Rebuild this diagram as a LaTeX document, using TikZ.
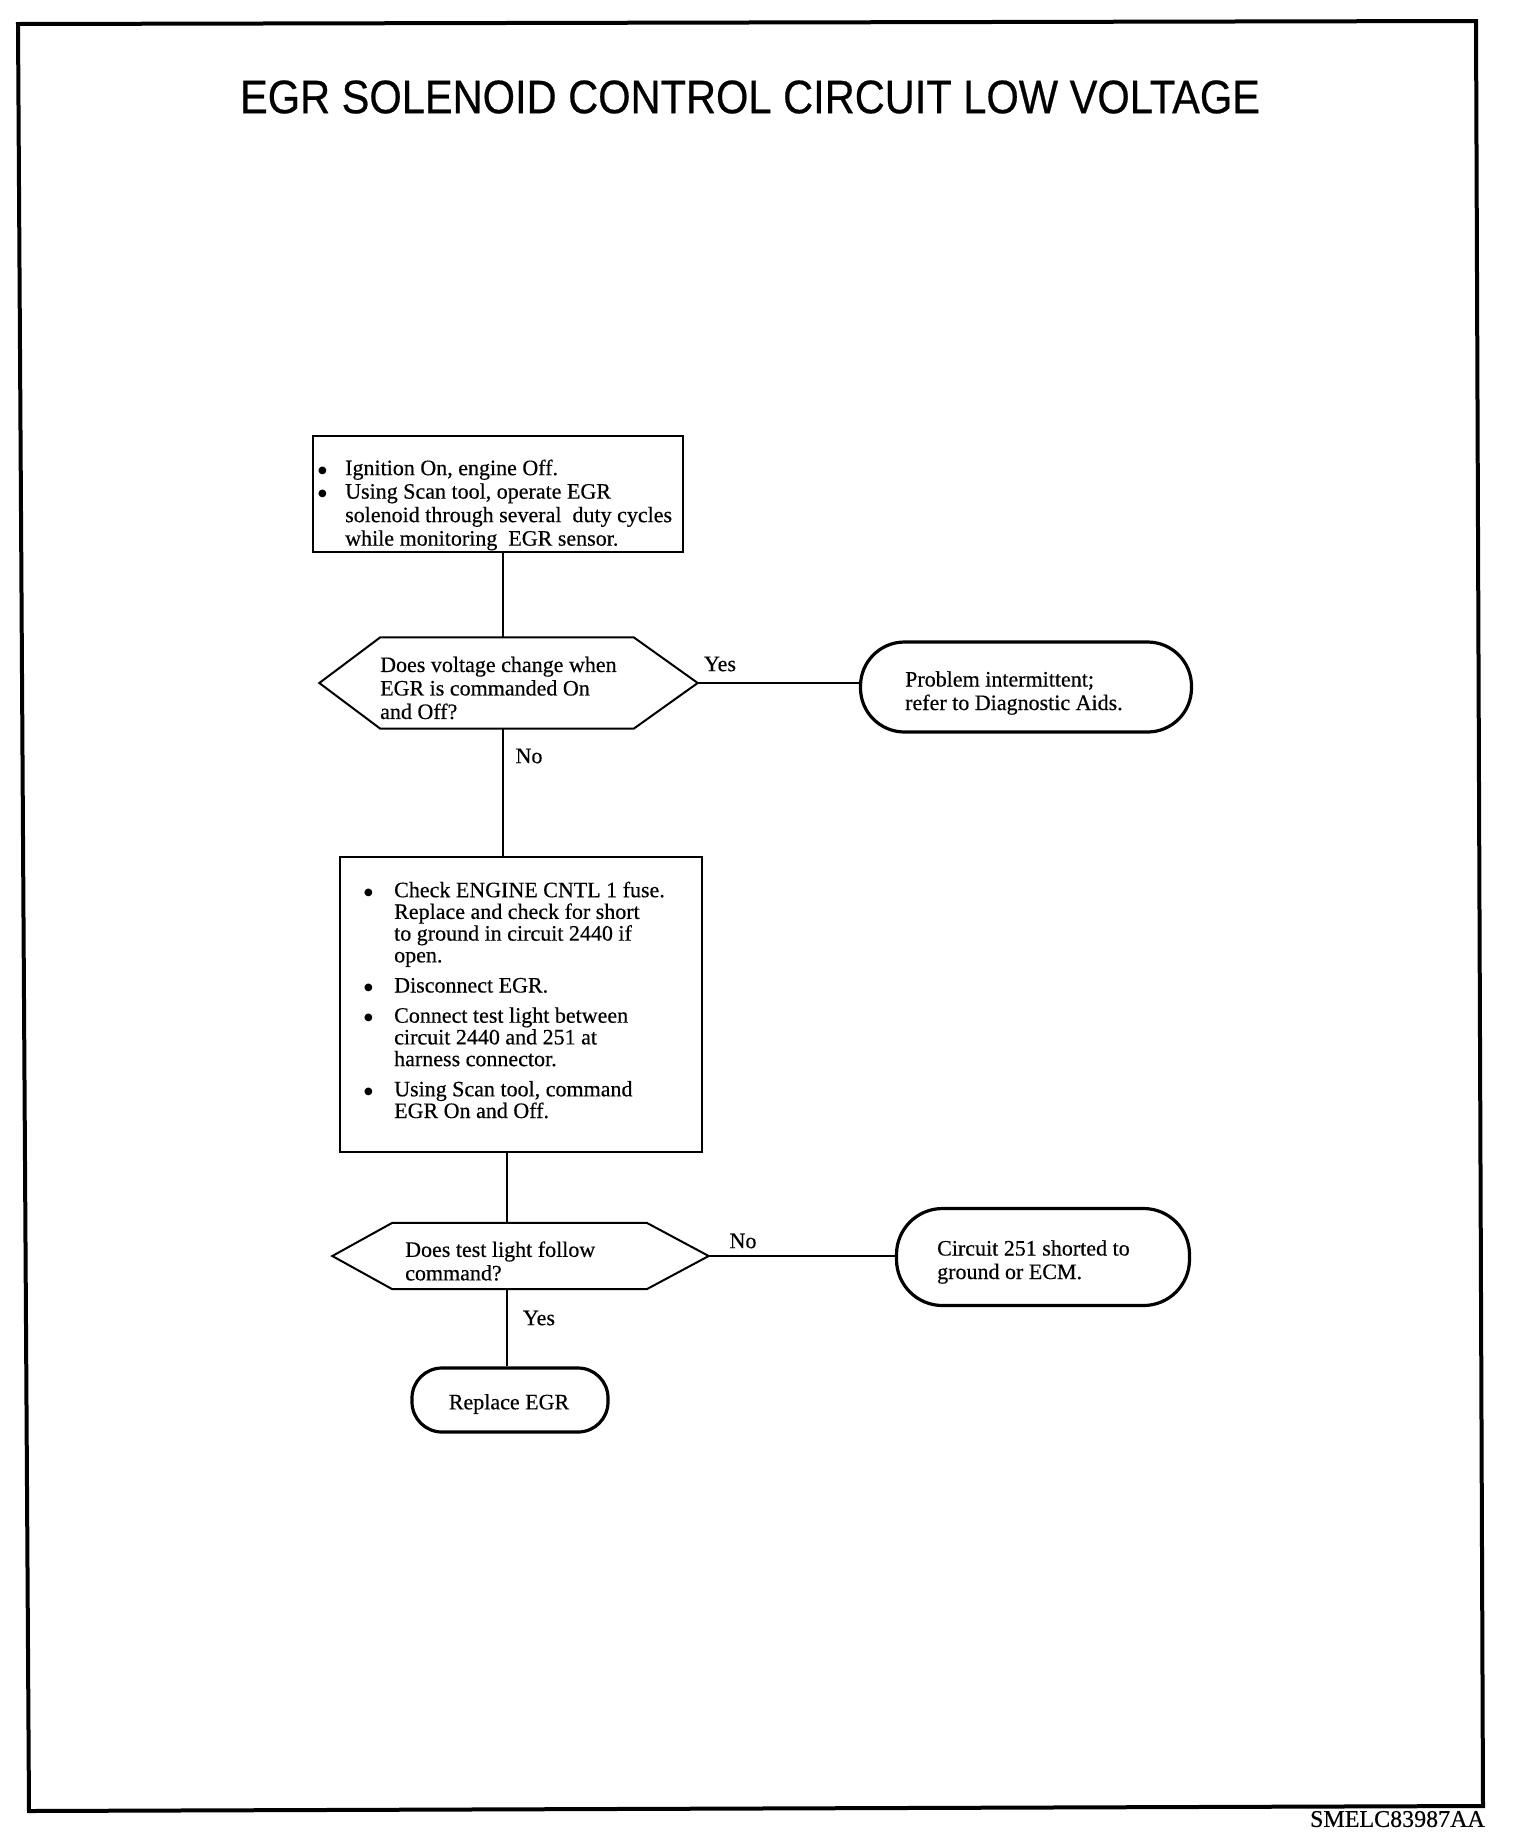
\documentclass[tikz,border=0pt]{standalone}
\usepackage{fontspec}
\usepackage{graphicx}
\setmainfont[FakeBold=0.4]{Liberation Serif}
\newfontfamily\titlefont[FakeBold=0.5]{Liberation Sans}
\newfontfamily\symfont{DejaVu Sans}
\newcommand{\bulmark}{\raisebox{2pt}{\symfont\fontsize{10}{0}\selectfont ●}}
\begin{document}
\begin{tikzpicture}[x=1pt,y=-1pt,
  txt/.style={font=\fontsize{22}{23.5}\selectfont, align=left, inner sep=0pt},
  lbl/.style={font=\fontsize{22}{22}\selectfont, inner sep=0pt},
  boxnode/.style={draw, line width=2pt, inner sep=0pt},
  term/.style={draw, line width=3.2pt, inner sep=0pt},
  hexa/.style={inner sep=0pt},
  link/.style={line width=2pt}
]
\useasboundingbox (0,0) rectangle (1520,1848);
\fill[white] (0,0) rectangle (1520,1848);

% frame
\draw[line width=4pt, line join=miter] (18,24) -- (1476,21) -- (1483,1806) -- (29,1811) -- cycle;

% title
\node[font=\titlefont\fontsize{47}{52}\selectfont, inner sep=0pt] (title) at (750,97)
  {\scalebox{0.885}[1]{EGR SOLENOID CONTROL CIRCUIT LOW VOLTAGE}};

% connector guide coordinates
\coordinate (cx1) at (503,0);
\coordinate (cx2) at (507,0);

% box 1
\node[boxnode, minimum width=370pt, minimum height=116pt] (b1) at (498,494) {};
\node[txt, font=\fontsize{22}{23.5}\selectfont, anchor=west] (b1t) at (318,505)
  {\makebox[27pt][l]{\bulmark}Ignition On, engine Off.\\
   \makebox[27pt][l]{\bulmark}Using Scan tool, operate EGR\\
   \hspace*{27pt}solenoid through several\ \ duty cycles\\
   \hspace*{27pt}while monitoring\ \ EGR sensor.};

% decision 1
\node[hexa, minimum width=253pt, minimum height=91pt] (d1) at (507,683) {};
\draw[link, line join=miter] (d1.north west) -- (d1.north east) -- ([xshift=64pt]d1.east) coordinate (d1r)
  -- (d1.south east) -- (d1.south west) -- ([xshift=-61pt]d1.west) -- cycle;
\node[txt, anchor=west] (q1) at (380,688)
  {Does voltage change when\\EGR is commanded On\\and Off?};

% terminal 1
\node[term, rounded corners=44pt, minimum width=331pt, minimum height=90pt] (t1) at (1026,687) {};
\node[txt, anchor=west] (t1t) at (905,693) {Problem intermittent;\\refer to Diagnostic Aids.};

% box 2
\node[boxnode, minimum width=362pt, minimum height=295pt] (b2) at (521,1004.5) {};
\node[txt, font=\fontsize{22}{21.7}\selectfont, anchor=west] (b2t) at (364,1000)
  {\makebox[30pt][l]{\bulmark}Check ENGINE CNTL 1 fuse.\\
   \hspace*{30pt}Replace and check for short\\
   \hspace*{30pt}to ground in circuit 2440 if\\
   \hspace*{30pt}open.\\[8.5pt]
   \makebox[30pt][l]{\bulmark}Disconnect EGR.\\[8.5pt]
   \makebox[30pt][l]{\bulmark}Connect test light between\\
   \hspace*{30pt}circuit 2440 and 251 at\\
   \hspace*{30pt}harness connector.\\[8.5pt]
   \makebox[30pt][l]{\bulmark}Using Scan tool, command\\
   \hspace*{30pt}EGR On and Off.};

% decision 2
\node[hexa, minimum width=254pt, minimum height=66pt] (d2) at (519.5,1256) {};
\draw[link, line join=miter] (d2.north west) -- (d2.north east) -- ([xshift=62pt]d2.east) coordinate (d2r)
  -- (d2.south east) -- (d2.south west) -- ([xshift=-60pt]d2.west) -- cycle;
\node[txt, anchor=west] (q2) at (405,1261)
  {Does test light follow\\command?};

% terminal 2
\node[term, rounded corners=46pt, minimum width=293pt, minimum height=97pt] (t2) at (1043,1257) {};
\node[txt, anchor=west] (t2t) at (937,1262) {Circuit 251 shorted to\\ground or ECM.};

% terminal 3
\node[term, rounded corners=30pt, minimum width=196pt, minimum height=64pt] (t3) at (510,1400) {};
\node[lbl] (t3t) at (509,1404) {Replace EGR};

% connectors
\draw[link] (b1.south -| cx1) -- (d1.north -| cx1);
\draw[link] (d1r) -- (d1r -| t1.west);
\draw[link] (d1.south -| cx1) -- (b2.north -| cx1);
\draw[link] (b2.south -| cx2) -- (d2.north -| cx2);
\draw[link] (d2r) -- (d2r -| t2.west);
\draw[link] (d2.south -| cx2) -- (t3.north -| cx2);

% labels
\node[lbl] (yes1) at (720,664) {Yes};
\node[lbl] (no1) at (529,756) {No};
\node[lbl] (no2) at (743,1241) {No};
\node[lbl] (yes2) at (539,1318) {Yes};

% figure code
\node[font=\fontsize{24}{24}\selectfont, inner sep=0pt, anchor=east] (code) at (1485,1819) {SMELC83987AA};
\end{tikzpicture}
\end{document}
